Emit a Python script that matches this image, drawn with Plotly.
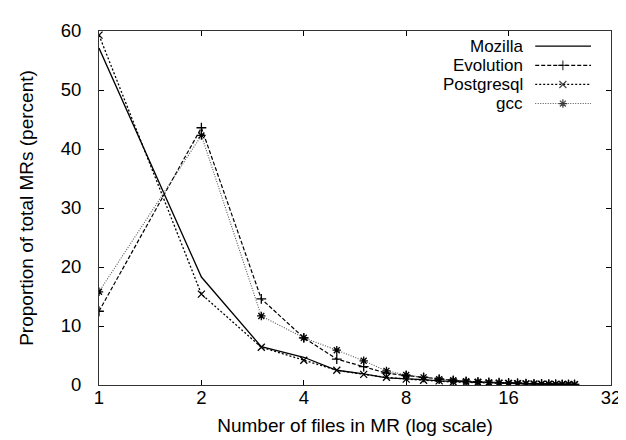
import plotly.graph_objects as go

files = list(range(1, 26))
mozilla = [57.1, 18.3, 6.5, 4.7, 2.5, 1.9, 1.2, 1.1, 0.9, 0.7, 0.6, 0.5, 0.4, 0.35, 0.3, 0.25,
           0.22, 0.2, 0.17, 0.15, 0.13, 0.12, 0.1, 0.1, 0.08]
evolution = [12.5, 43.6, 14.6, 8.0, 4.4, 3.1, 2.0, 1.6, 1.3, 1.0, 0.8, 0.6, 0.5, 0.45, 0.4, 0.35,
             0.3, 0.25, 0.2, 0.2, 0.15, 0.15, 0.12, 0.1, 0.1]
postgresql = [59.3, 15.4, 6.4, 4.2, 2.5, 1.8, 1.3, 1.0, 0.8, 0.7, 0.5, 0.45, 0.4, 0.3, 0.28, 0.25,
              0.2, 0.18, 0.15, 0.13, 0.12, 0.1, 0.1, 0.08, 0.07]
gcc = [15.8, 42.3, 11.7, 8.0, 5.9, 4.1, 2.4, 1.7, 1.3, 1.0, 0.8, 0.65, 0.55, 0.45, 0.4, 0.35,
       0.3, 0.25, 0.22, 0.2, 0.18, 0.15, 0.13, 0.12, 0.1]

x_ticks = [1, 2, 4, 8, 16, 32]
y_ticks = [0, 10, 20, 30, 40, 50, 60]

FONT = "Liberation Sans, Arial, Helvetica, sans-serif"
TICK_FS = 18.5
TITLE_FS = 19
LEG_FS = 17

series = [
    ("Mozilla", mozilla, dict(color="black", width=1.3, dash="solid"), None),
    ("Evolution", evolution, dict(color="black", width=1.2, dash="4px,2px"), "cross-thin-open"),
    ("Postgresql", postgresql, dict(color="black", width=1.3, dash="2px,2px"), "x-thin-open"),
    ("gcc", gcc, dict(color="#555555", width=1.1, dash="1px,1.5px"), "asterisk-open"),
]

fig = go.Figure()
for name, vals, line, sym in series:
    if sym is None:
        fig.add_trace(go.Scatter(x=files, y=vals, mode="lines", line=line, name=name,
                                 showlegend=False))
    else:
        fig.add_trace(go.Scatter(x=files, y=vals, mode="lines+markers", line=line, name=name,
                                 marker=dict(symbol=sym, size=7, color="black",
                                             line=dict(color="black", width=1.3)),
                                 showlegend=False))

# custom legend (text right-aligned, sample to the right) on an overlay axis
row_y = [0.957, 0.903, 0.849, 0.795]
for (name, vals, line, sym), ry in zip(series, row_y):
    xs = [0.852, 0.906, 0.961]
    if sym is None:
        fig.add_trace(go.Scatter(x=xs, y=[ry] * 3, mode="lines", line=line, xaxis="x2",
                                 yaxis="y2", showlegend=False, hoverinfo="skip"))
    else:
        fig.add_trace(go.Scatter(x=xs, y=[ry] * 3, mode="lines+markers", line=line,
                                 xaxis="x2", yaxis="y2", showlegend=False, hoverinfo="skip",
                                 marker=dict(symbol=sym, size=[0, 7, 0], color="black",
                                             line=dict(color="black", width=1.3))))
    fig.add_annotation(x=0.830, y=ry, xref="x2", yref="y2", text=name, showarrow=False,
                       xanchor="right", yanchor="middle", borderpad=0,
                       font=dict(family=FONT, size=LEG_FS, color="black"))

axis_common = dict(showline=True, linecolor="#333333", linewidth=1, mirror="ticks",
                   ticks="inside", ticklen=5, tickcolor="black", tickwidth=1,
                   showgrid=False, zeroline=False,
                   tickfont=dict(family=FONT, size=TICK_FS, color="black"))

fig.update_layout(
    width=626, height=440,
    margin=dict(l=91, r=23, t=16, b=63),
    paper_bgcolor="white", plot_bgcolor="white",
    font=dict(family=FONT, size=TICK_FS, color="black"),
    xaxis=dict(type="log", range=[0, 1.50515], tickvals=x_ticks,
               ticktext=[str(v) for v in x_ticks], ticklabelstandoff=-4,
               title=dict(text="Number of files in MR (log scale)", standoff=11,
                          font=dict(family=FONT, size=TITLE_FS)),
               **axis_common),
    yaxis=dict(range=[0, 60], tickvals=y_ticks, ticklabelstandoff=13,
               title=dict(text="Proportion of total MRs (percent)", standoff=22,
                          font=dict(family=FONT, size=TITLE_FS)),
               **axis_common),
    xaxis2=dict(overlaying="x", range=[0, 1], visible=False),
    yaxis2=dict(overlaying="y", range=[0, 1], visible=False),
    showlegend=False,
)

fig.write_html("out.html")
